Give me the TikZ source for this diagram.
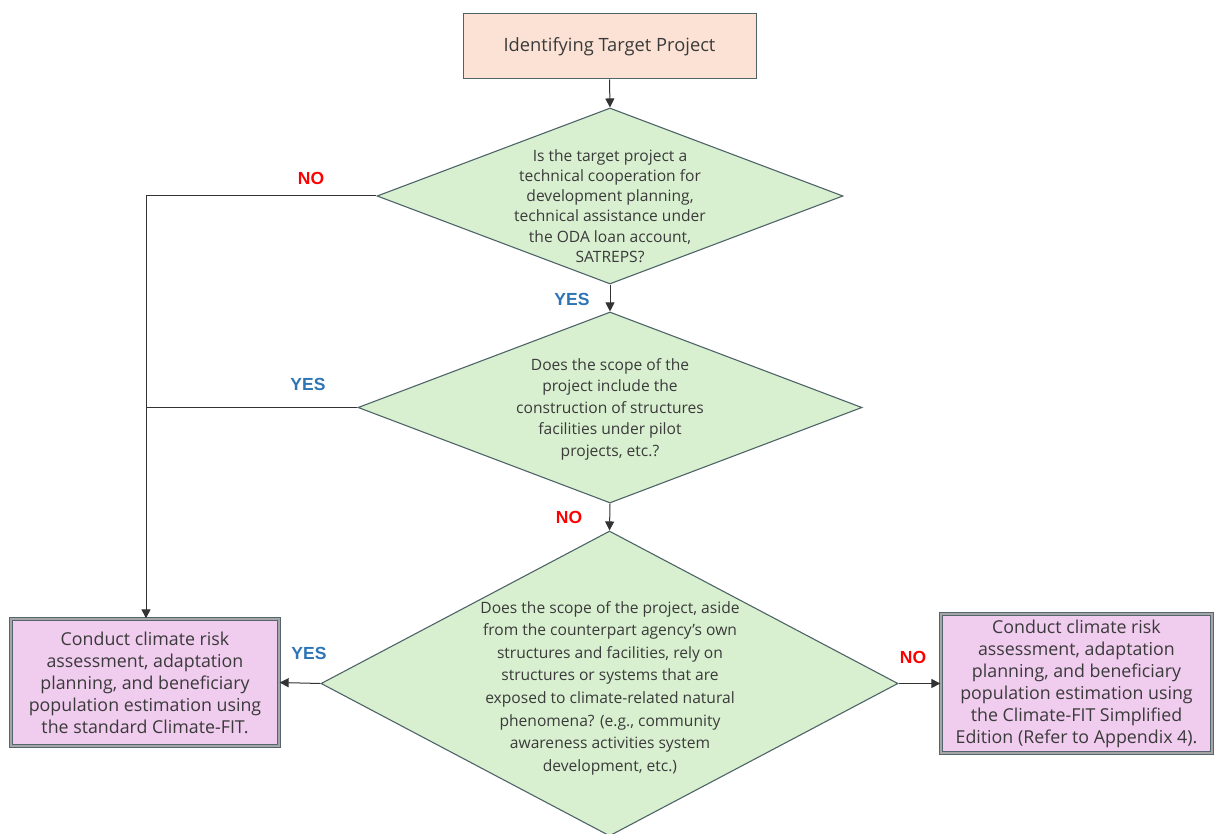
\documentclass[tikz,border=0pt]{standalone}
\usepackage{fontspec}
\setmainfont{Open Sans}
\newfontfamily\lblfont{Liberation Sans}
\usetikzlibrary{shapes.geometric,arrows.meta}
\definecolor{txt}{HTML}{3A3A3A}
\definecolor{dfill}{HTML}{D8F0D0}
\definecolor{dline}{HTML}{4F6468}
\definecolor{peach}{HTML}{FBE2D5}
\definecolor{pink}{HTML}{F0CCEE}
\definecolor{bline}{HTML}{556570}
\definecolor{nored}{HTML}{FF0000}
\definecolor{yesblue}{HTML}{2E75B6}
\tikzset{
  dia/.style={diamond, draw=dline, fill=dfill, line width=1.1pt, inner sep=0pt},
  dtext/.style={text=txt, align=center, font=\fontsize{15.6}{20.2}\selectfont},
  topbox/.style={draw=dline, fill=peach, line width=1pt, minimum width=293, minimum height=65, text=txt, font=\fontsize{18.3}{20}\selectfont},
  endbox/.style={draw=bline, fill=pink, double=gray!70, double distance=1.4pt, line width=1.3pt, text=txt, align=center, font=\fontsize{17.8}{22}\selectfont, inner sep=0pt},
  conn/.style={draw=black!80, line width=1pt},
  arr/.style={conn, -{Triangle[length=9pt,width=9pt]}},
  nolbl/.style={text=nored, font=\lblfont\bfseries\fontsize{17.5}{18}\selectfont},
  yeslbl/.style={text=yesblue, font=\lblfont\bfseries\fontsize{17.5}{18}\selectfont}
}
\begin{document}
\begin{tikzpicture}[x=1pt,y=-1pt]
\clip (0,0) rectangle (1215,834);
\fill[white] (0,0) rectangle (1215,834);
\node[topbox] (top) at (609.5,46.5) {Identifying Target Project};
\node[dia, minimum width=466, minimum height=176] (d1) at (610,196) {};
\node[dtext] at (610,206) {Is the target project a\\technical cooperation for\\development planning,\\technical assistance under\\the ODA loan account,\\SATREPS?};
\node[dia, minimum width=504, minimum height=191] (d2) at (610,407.5) {};
\node[dtext, font=\fontsize{15.6}{21.5}\selectfont] at (610,409) {Does the scope of the\\project include the\\construction of structures\\facilities under pilot\\projects, etc.?};
\node[dia, minimum width=577, minimum height=305] (d3) at (609.5,683.5) {};
\node[dtext, font=\fontsize{15.6}{22.6}\selectfont] at (610,688) {Does the scope of the project, aside\\from the counterpart agency's own\\structures and facilities, rely on\\structures or systems that are\\exposed to climate-related natural\\phenomena? (e.g., community\\awareness activities system\\development, etc.)};
\node[endbox, minimum width=268, minimum height=127] (lb) at (145,682.5) {Conduct climate risk\\assessment, adaptation\\planning, and beneficiary\\population estimation using\\the standard Climate-FIT.};
\node[endbox, minimum width=271, minimum height=139] (rb) at (1076.5,683.5) {Conduct climate risk\\assessment, adaptation\\planning, and beneficiary\\population estimation using\\the Climate-FIT Simplified\\Edition (Refer to Appendix 4).};
\coordinate (c1) at (146,196);
\coordinate (c2) at (146,407.5);
\draw[arr] (top.south) -- (d1.north);
\draw[arr] (d1.south) -- (d2.north);
\draw[arr] (d2.south) -- (d3.north);
\draw[conn] (d1.west) -- (c1);
\draw[conn] (d2.west) -- (c2);
\draw[arr] (c1) -- (c1 |- lb.north);
\draw[arr] (d3.west) -- (lb.east);
\draw[arr] (d3.east) -- (rb.west);
\node[nolbl] at (311,178) {NO};
\node[yeslbl] at (572,299) {YES};
\node[yeslbl] at (308,384) {YES};
\node[nolbl] at (569,517) {NO};
\node[yeslbl] at (309,653) {YES};
\node[nolbl] at (913,657) {NO};
\end{tikzpicture}
\end{document}
